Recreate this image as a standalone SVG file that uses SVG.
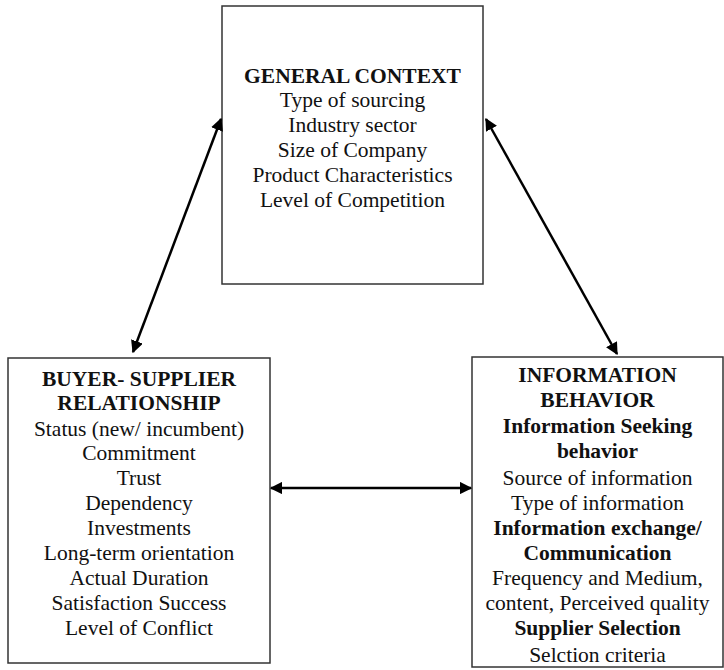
<svg xmlns="http://www.w3.org/2000/svg" width="724" height="670" viewBox="0 0 724 670">
<style>
.box{fill:#fff;stroke:#333;stroke-width:1.5}
text{font-family:"Liberation Serif","Times New Roman",serif;font-size:21.5px;fill:#111;text-anchor:middle}
.b{font-weight:bold}
.c{stroke:#000;stroke-width:2.5;fill:none;marker-start:url(#ah);marker-end:url(#ah)}
</style>
<defs>
<marker id="ah" viewBox="0 0 10 10" refX="9" refY="5" markerWidth="5" markerHeight="5" orient="auto-start-reverse" markerUnits="strokeWidth">
<path d="M0,0 L10,5 L0,10 z" fill="#000"/>
</marker>
</defs>
<g id="general-context">
<rect class="box" x="222" y="6" width="261" height="278"/>
<text x="352.5" y="83" class="b">GENERAL CONTEXT</text>
<text x="352.5" y="107">Type of sourcing</text>
<text x="352.5" y="132">Industry sector</text>
<text x="352.5" y="157">Size of Company</text>
<text x="352.5" y="182">Product Characteristics</text>
<text x="352.5" y="207">Level of Competition</text>
</g>
<g id="buyer-supplier">
<rect class="box" x="8" y="358" width="262" height="305"/>
<text x="139" y="386" class="b">BUYER- SUPPLIER</text>
<text x="139" y="410" class="b">RELATIONSHIP</text>
<text x="139" y="436">Status (new/ incumbent)</text>
<text x="139" y="460">Commitment</text>
<text x="139" y="485">Trust</text>
<text x="139" y="510">Dependency</text>
<text x="139" y="535">Investments</text>
<text x="139" y="560">Long-term orientation</text>
<text x="139" y="585">Actual Duration</text>
<text x="139" y="610">Satisfaction Success</text>
<text x="139" y="635">Level of Conflict</text>
</g>
<g id="information-behavior">
<rect class="box" x="472" y="357" width="251" height="310"/>
<text x="597.5" y="382" class="b">INFORMATION</text>
<text x="597.5" y="407" class="b">BEHAVIOR</text>
<text x="597.5" y="433" class="b">Information Seeking</text>
<text x="597.5" y="458" class="b">behavior</text>
<text x="597.5" y="485">Source of information</text>
<text x="597.5" y="510">Type of information</text>
<text x="597.5" y="535" class="b">Information exchange/</text>
<text x="597.5" y="560" class="b">Communication</text>
<text x="597.5" y="585">Frequency and Medium,</text>
<text x="597.5" y="610">content, Perceived quality</text>
<text x="597.5" y="635" class="b">Supplier Selection</text>
<text x="597.5" y="662">Selction criteria</text>
</g>
<g id="connectors">
<line class="c" x1="221" y1="119" x2="133" y2="352"/>
<line class="c" x1="486" y1="119" x2="617" y2="354"/>
<line class="c" x1="271" y1="488" x2="471" y2="488"/>
</g>
</svg>
